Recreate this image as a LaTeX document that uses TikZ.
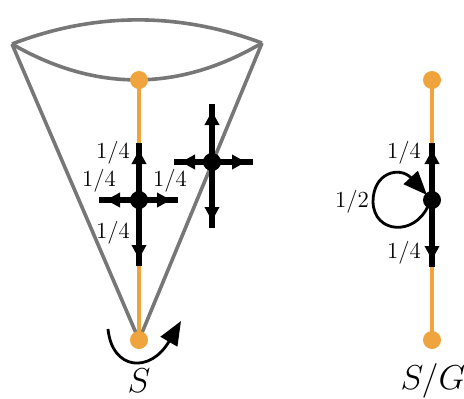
\documentclass[tikz,border=0pt]{standalone}
\usetikzlibrary{arrows.meta,decorations.markings}
\definecolor{conegray}{RGB}{119,119,119}
\definecolor{orng}{RGB}{239,164,62}
\begin{document}
\begin{tikzpicture}[x=0.5pt,y=-0.5pt,
  cone/.style={draw=conegray,line width=1.8pt,line join=round},
  orangeline/.style={draw=orng,line width=1.7pt},
  odot/.style={circle,fill=orng,inner sep=0pt,minimum size=9pt},
  bdot/.style={circle,fill=black,inner sep=0pt,minimum size=9pt},
  shaft/.style={draw=black,line width=2.7pt,postaction={decorate},
    decoration={markings,mark=at position -3.5pt with {\arrow{Triangle[length=7pt,width=7pt]}}}},
  bigarrow/.style={draw=black,line width=1.4pt,-{Triangle[length=12pt,width=9.5pt]}},
  lbl/.style={font=\fontsize{11.5}{13}\selectfont,inner sep=0pt},
  biglbl/.style={font=\fontsize{16}{18}\selectfont,inner sep=0pt}]
\useasboundingbox (0,0) rectangle (464,398);
% cone
\coordinate (tl) at (12,44);
\coordinate (tr) at (262,43);
\coordinate (apex) at (139,340);
\draw[cone] (tl) -- (apex) -- (tr);
\draw[cone] (tl) .. controls (95,12) and (179,12) .. (tr);
\draw[cone] (tl) .. controls (95,92) and (179,92) .. (tr);
% orange segment S
\coordinate (stop) at (139,80);
\draw[orangeline] (stop) -- (apex);
% left cross
\coordinate (c1) at (139,200);
\coordinate (c1u) at (139,143);
\coordinate (c1d) at (139,266);
\coordinate (c1l) at (99,200);
\coordinate (c1r) at (178,200);
\draw[shaft] (c1) -- (c1u);
\draw[shaft] (c1) -- (c1d);
\draw[shaft] (c1) -- (c1l);
\draw[shaft] (c1) -- (c1r);
\node[bdot] (n1) at (c1) {};
\node[lbl] (l1u) at (113,153) {1/4};
\node[lbl] (l1l) at (99,181) {1/4};
\node[lbl] (l1r) at (170,181) {1/4};
\node[lbl] (l1d) at (113,233) {1/4};
% right cross
\coordinate (c2) at (212,162);
\coordinate (c2u) at (212,104);
\coordinate (c2d) at (212,228);
\coordinate (c2l) at (174,162);
\coordinate (c2r) at (253,162);
\draw[shaft] (c2) -- (c2u);
\draw[shaft] (c2) -- (c2d);
\draw[shaft] (c2) -- (c2l);
\draw[shaft] (c2) -- (c2r);
\node[bdot] (n2) at (c2) {};
% rotation arrow
\coordinate (r1) at (108,329);
\coordinate (r2) at (181,321);
\draw[bigarrow] (r1) .. controls (112,370) and (150,374) .. (r2);
\node[odot] (oS1) at (stop) {};
\node[odot] (oS2) at (apex) {};
\node[biglbl] (labS) at (139,381) {$S$};
% quotient S/G
\coordinate (gtop) at (432,80);
\coordinate (gbot) at (432,340);
\draw[orangeline] (gtop) -- (gbot);
\coordinate (g) at (432,200);
\coordinate (gu) at (432,143);
\coordinate (gd) at (432,267);
\draw[shaft] (g) -- (gu);
\draw[shaft] (g) -- (gd);
\coordinate (ls) at (428,206);
\coordinate (lm) at (373,202);
\coordinate (lt) at (427,195);
\draw[bigarrow] (ls) .. controls (415,236) and (374,234) .. (lm)
  .. controls (373,172) and (400,166) .. (lt);
\node[bdot] (ng) at (g) {};
\node[odot] (oG1) at (gtop) {};
\node[odot] (oG2) at (gbot) {};
\node[lbl] (lgu) at (404,153) {1/4};
\node[lbl] (lgl) at (352,202) {1/2};
\node[lbl] (lgd) at (404,253) {1/4};
\node[biglbl] (labG) at (433,381) {$S/G$};
\end{tikzpicture}
\end{document}
